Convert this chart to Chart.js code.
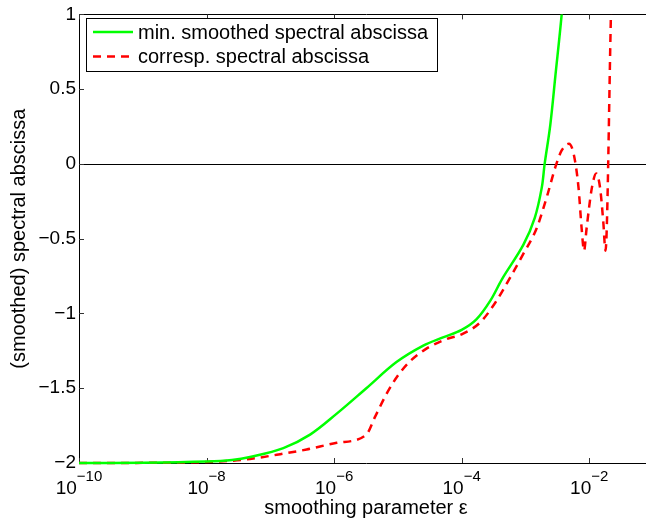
<!DOCTYPE html>
<html>
<head>
<meta charset="utf-8">
<script src="https://cdn.jsdelivr.net/npm/chart.js@4/dist/chart.umd.min.js"></script>
<style>
    html, body { margin: 0; padding: 0; background: #fff; overflow: hidden; }
    #wrap { width: 660px; height: 522px; }
</style>
</head>
<body>
<div id="wrap"><canvas id="myChart"></canvas></div>
<script>
// smoothing parameter eps (x) and values (y)
const minEps = [1e-10, 1e-9, 1e-8, 2.5e-8, 4.8e-8, 1.6e-7, 4.2e-7, 1.1e-6, 3.2e-6, 9.5e-6,
    2.5e-5, 5.1e-5, 1e-4, 1.7e-4, 2.8e-4, 4.3e-4, 9.3e-4, 1.4e-3, 1.8e-3, 2.0e-3,
    2.45e-3, 2.95e-3, 3.7e-3, 4.2e-3];
const minAbscissa = [-2.0, -1.998, -1.99, -1.98, -1.96, -1.90, -1.81, -1.67, -1.50, -1.325,
    -1.215, -1.16, -1.11, -1.04, -0.916, -0.77, -0.54, -0.36, -0.16, 0.0,
    0.26, 0.59, 1.0, 1.3];

const corEps = [1e-10, 1e-9, 1e-8, 2.5e-8, 4.8e-8, 1.26e-7, 3.7e-7, 1.1e-6, 3.2e-6, 4.4e-6,
    6.8e-6, 1.02e-5, 1.55e-5, 2.8e-5, 5.9e-5, 1e-4, 1.95e-4, 3.4e-4, 5.75e-4, 9.3e-4,
    1.5e-3, 2.2e-3, 2.95e-3, 3.7e-3, 4.8e-3, 5.75e-3, 6.8e-3, 7.6e-3, 8.3e-3, 9.1e-3,
    1.1e-2, 1.29e-2, 1.48e-2, 1.66e-2, 1.8e-2, 2.19e-2, 2.3e-2];
const corAbscissa = [-2.0, -1.999, -1.993, -1.985, -1.973, -1.945, -1.91, -1.865, -1.81, -1.69,
    -1.53, -1.41, -1.32, -1.235, -1.17, -1.14, -1.06, -0.925, -0.76, -0.60,
    -0.43, -0.21, -0.02, 0.09, 0.135, 0.06, -0.16, -0.43, -0.58, -0.43,
    -0.16, -0.064, -0.16, -0.385, -0.58, 1.0, 1.4];

const xTicks = [1e-10, 1e-8, 1e-6, 1e-4, 1e-2];
const xTickExp = ["\u221210", "\u22128", "\u22126", "\u22124", "\u22122"];
const labels = ["min. smoothed spectral abscissa", "corresp. spectral abscissa"];

const FONT = "'Liberation Sans', Arial, Helvetica, sans-serif";

function toPoints(xs, ys) {
    return xs.map((x, i) => ({ x: x, y: ys[i] }));
}

// frame, inward ticks, zero line and the 10^n labels
const axesPlugin = {
    id: "axesPlugin",
    beforeDatasetsDraw(chart) {
        const ctx = chart.ctx;
        const a = chart.chartArea;
        const xs = chart.scales.x, ys = chart.scales.y;
        ctx.save();
        ctx.strokeStyle = "#000";
        ctx.lineWidth = 1;
        ctx.beginPath();
        ctx.rect(Math.round(a.left) + 0.5, Math.round(a.top) + 0.5,
            Math.round(a.right - a.left), Math.round(a.bottom - a.top));
        ctx.stroke();

        // zero line
        const y0 = Math.round(ys.getPixelForValue(0)) + 0.5;
        ctx.beginPath();
        ctx.moveTo(a.left, y0);
        ctx.lineTo(a.right, y0);
        ctx.stroke();

        ctx.strokeStyle = "#333";
        const len = 5;
        xTicks.forEach((v) => {
            const px = Math.round(xs.getPixelForValue(v)) + 0.5;
            ctx.beginPath();
            ctx.moveTo(px, a.bottom); ctx.lineTo(px, a.bottom - len);
            ctx.moveTo(px, a.top); ctx.lineTo(px, a.top + len);
            ctx.stroke();
        });
        ys.ticks.forEach((t) => {
            const py = Math.round(ys.getPixelForValue(t.value)) + 0.5;
            ctx.beginPath();
            ctx.moveTo(a.left, py); ctx.lineTo(a.left + len, py);
            ctx.moveTo(a.right, py); ctx.lineTo(a.right - len, py);
            ctx.stroke();
        });

        // x tick labels with superscript exponents
        ctx.fillStyle = "#000";
        ctx.textBaseline = "alphabetic";
        ctx.textAlign = "left";
        xTicks.forEach((v, i) => {
            const px = xs.getPixelForValue(v);
            ctx.font = "19px " + FONT;
            const wb = ctx.measureText("10").width;
            ctx.font = "15px " + FONT;
            const we = ctx.measureText(xTickExp[i]).width;
            const x0 = px - (wb + we) / 2;
            ctx.font = "19px " + FONT;
            ctx.fillText("10", x0, 494);
            ctx.font = "15px " + FONT;
            ctx.fillText(xTickExp[i], x0 + wb, 481);
        });
        ctx.restore();
    },
    afterDraw(chart) {
        const ctx = chart.ctx;
        ctx.save();
        ctx.fillStyle = "#fff";
        ctx.fillRect(86, 18, 351, 53);
        ctx.strokeStyle = "#000";
        ctx.lineWidth = 1;
        ctx.strokeRect(86.5, 18.5, 351, 53);
        const rows = [32, 56.5];
        chart.data.datasets.forEach((ds, i) => {
            ctx.strokeStyle = ds.borderColor;
            ctx.lineWidth = ds.borderWidth;
            ctx.setLineDash(ds.borderDash || []);
            ctx.beginPath();
            ctx.moveTo(93, rows[i]);
            ctx.lineTo(133, rows[i]);
            ctx.stroke();
            ctx.setLineDash([]);
            ctx.fillStyle = "#000";
            ctx.font = "20px " + FONT;
            ctx.textBaseline = "middle";
            ctx.fillText(ds.label, 138, rows[i] + 1);
        });
        ctx.restore();
    }
};

var ctx = document.getElementById("myChart").getContext("2d");
var myChart = new Chart(ctx, {
    type: "line",
    data: {
        datasets: [{
            label: labels[0],
            data: toPoints(minEps, minAbscissa),
            borderColor: "#00ff00",
            backgroundColor: "#00ff00",
            borderWidth: 2.5,
            pointRadius: 0,
            tension: 0.35,
            clip: { left: 0, top: 0, right: 0, bottom: 5 }
        }, {
            label: labels[1],
            data: toPoints(corEps, corAbscissa),
            borderColor: "#ff0000",
            backgroundColor: "#ff0000",
            borderWidth: 2.5,
            borderDash: [8, 6],
            pointRadius: 0,
            cubicInterpolationMode: "monotone",
            clip: { left: 0, top: 0, right: 0, bottom: 5 }
        }]
    },
    options: {
        responsive: true,
        maintainAspectRatio: false,
        animation: false,
        layout: {
            padding: { top: 11, right: 7, left: 0, bottom: 0 }
        },
        plugins: {
            legend: { display: false },
            tooltip: { enabled: false }
        },
        scales: {
            x: {
                type: "logarithmic",
                min: 1e-10,
                max: 1e-1,
                grid: { display: false },
                border: { display: false },
                ticks: { display: false },
                afterFit: function(scale) { scale.height = 59; },
                title: {
                    display: true,
                    text: "smoothing parameter \u03b5",
                    color: "#000",
                    font: { family: FONT, size: 20 },
                    padding: { top: 0, bottom: 2 }
                }
            },
            y: {
                min: -2,
                max: 1,
                grid: { display: false, drawTicks: false },
                border: { display: false },
                ticks: {
                    stepSize: 0.5,
                    color: "#000",
                    padding: 3,
                    font: { family: FONT, size: 19 },
                    callback: function(v) { return String(v).replace("-", "\u2212"); }
                },
                afterFit: function(scale) { scale.width = 79; },
                title: {
                    display: true,
                    text: "(smoothed) spectral abscissa",
                    color: "#000",
                    font: { family: FONT, size: 20 },
                    padding: { top: 7, bottom: 0 }
                }
            }
        }
    },
    plugins: [axesPlugin]
});
</script>
</body>
</html>
